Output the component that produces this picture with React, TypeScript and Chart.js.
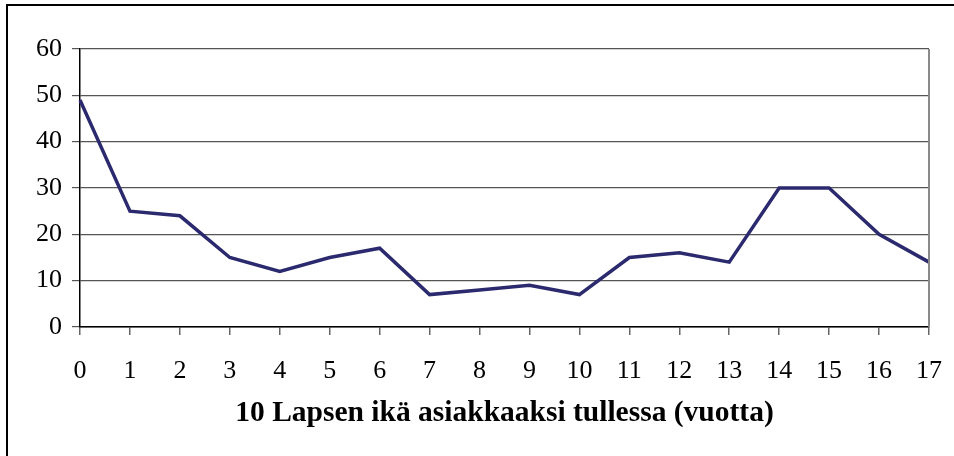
import React, { useEffect, useRef } from "react";
import { Chart, registerables } from "chart.js";

Chart.register(...registerables);

const ages = ["0", "1", "2", "3", "4", "5", "6", "7", "8", "9", "10", "11", "12", "13", "14", "15", "16", "17"];
const counts = [49, 25, 24, 15, 12, 15, 17, 7, 8, 9, 7, 15, 16, 14, 30, 30, 20, 14];
const xTitle = "10 Lapsen ikä asiakkaaksi tullessa (vuotta)";
const yMin = 0;
const yMax = 60;
const yStep = 10;

const framePlugin = {
  id: "frame",
  afterDraw(chart: any) {
    const { ctx, chartArea } = chart;
    ctx.save();
    ctx.strokeStyle = "#8a8a8a";
    ctx.lineWidth = 2;
    ctx.beginPath();
    ctx.moveTo(chartArea.right, chartArea.top);
    ctx.lineTo(chartArea.right, chartArea.bottom);
    ctx.stroke();
    ctx.restore();
  },
};

export default function App() {
  const ref = useRef<HTMLCanvasElement | null>(null);
  useEffect(() => {
    if (!ref.current) return;
    const font = "'Liberation Serif', 'Times New Roman', serif";
    const chart = new Chart(ref.current, {
      type: "line",
      data: {
        labels: ages,
        datasets: [
          {
            data: counts,
            borderColor: "#2c2a6e",
            borderWidth: 3.5,
            pointRadius: 0,
            tension: 0,
            fill: false,
          },
        ],
      },
      options: {
        animation: false,
        responsive: false,
        maintainAspectRatio: false,
        layout: { padding: { left: 0, right: 25, top: 49, bottom: 0 } },
        plugins: { legend: { display: false }, tooltip: { enabled: false }, title: { display: false } },
        scales: {
          x: {
            type: "category",
            offset: false,
            grid: { drawOnChartArea: false, drawTicks: true, tickLength: 8, color: "#666", lineWidth: 1.5 },
            border: { display: true, color: "#000", width: 1.5 },
            ticks: { color: "#000", font: { family: font, size: 26 }, padding: 21, maxRotation: 0, autoSkip: false },
            title: {
              display: true,
              text: xTitle,
              color: "#000",
              font: { family: font, size: 29.5, weight: "bold" },
              padding: { top: 0, bottom: 25 },
            },
            afterFit(scale: any) {
              scale.height = 129;
              scale.paddingLeft = 0;
              scale.paddingRight = 0;
            },
          },
          y: {
            min: yMin,
            max: yMax,
            grid: { color: "#555", lineWidth: 1.2, tickLength: 8, drawTicks: true },
            border: { display: true, color: "#000", width: 1.5 },
            ticks: { stepSize: yStep, color: "#000", font: { family: font, size: 26 }, padding: 10 },
            afterFit(scale: any) {
              scale.width = 80;
            },
          },
        },
      },
      plugins: [framePlugin],
    });
    return () => chart.destroy();
  }, []);
  return (
    <div style={{ position: "fixed", left: 0, top: 0, width: 954, height: 456, background: "#fff" }}>
      <canvas ref={ref} width={954} height={456} style={{ position: "absolute", left: 0, top: 0, width: 954, height: 456 }} />
      <div
        style={{
          position: "absolute",
          left: 6,
          top: 4,
          width: 960,
          height: 470,
          borderLeft: "2px solid #000",
          borderTop: "2px solid #000",
          pointerEvents: "none",
        }}
      />
    </div>
  );
}
